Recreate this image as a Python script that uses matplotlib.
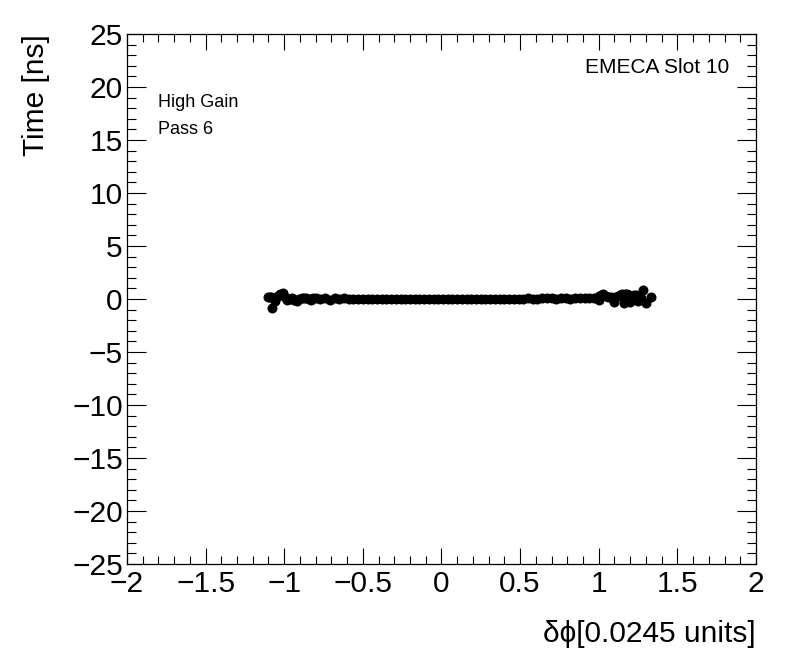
import matplotlib
matplotlib.use("Agg")
import matplotlib.pyplot as plt
from matplotlib.ticker import MultipleLocator

plt.rcParams['font.family'] = ['Liberation Sans', 'DejaVu Sans']

# delta phi of each channel and fitted time offset
dphi = [-1.10, -1.085, -1.07, -1.055, -1.04, -1.025, -1.01, -0.995, -0.98, -0.965,
        -0.95, -0.935, -0.92, -0.905, -0.89, -0.875, -0.86, -0.845, -0.83, -0.815,
        -0.80, -0.77, -0.74, -0.71, -0.68, -0.65, -0.62, -0.59, -0.56, -0.53,
        -0.50, -0.47, -0.44, -0.41, -0.38, -0.35, -0.32, -0.29, -0.26, -0.23,
        -0.20, -0.17, -0.14, -0.11, -0.08, -0.05, -0.02, 0.01, 0.04, 0.07,
        0.10, 0.13, 0.16, 0.19, 0.22, 0.25, 0.28, 0.31, 0.34, 0.37,
        0.40, 0.43, 0.46, 0.49, 0.52, 0.55, 0.58, 0.61, 0.64, 0.67,
        0.70, 0.73, 0.76, 0.79, 0.82, 0.85, 0.88, 0.91, 0.94, 0.97,
        1.00, 1.015, 1.03, 1.045, 1.06, 1.075, 1.09, 1.105, 1.12, 1.135,
        1.15, 1.165, 1.18, 1.195, 1.21, 1.225, 1.24, 1.255, 1.27,
        -1.075, -1.09, -1.06, 1.28, 1.33, 1.30, 1.22, 1.00,
        1.10, 1.16, 1.20, 1.25]
time = [0.15, 0.20, 0.10, 0.15, 0.30, 0.45, 0.55, 0.20, -0.10, 0.00,
        0.10, -0.05, -0.15, 0.00, 0.05, 0.10, 0.10, 0.00, -0.05, 0.05,
        0.10, 0.00, 0.05, -0.05, 0.05, 0.00, 0.05, 0.00, 0.00, 0.00,
        0.00, 0.00, 0.00, 0.00, 0.00, 0.00, 0.00, 0.00, 0.00, 0.00,
        0.00, 0.00, 0.00, 0.00, 0.00, 0.00, 0.00, 0.00, 0.00, 0.00,
        0.00, 0.00, 0.00, 0.00, 0.00, 0.00, 0.00, 0.00, 0.00, 0.00,
        0.02, 0.00, 0.00, 0.03, 0.00, 0.05, 0.03, 0.00, 0.05, 0.08,
        0.05, 0.00, 0.08, 0.05, 0.00, 0.05, 0.08, 0.05, 0.10, 0.05,
        0.30, 0.40, 0.45, 0.30, 0.20, 0.15, 0.10, 0.20, 0.30, 0.40,
        0.45, 0.50, 0.50, 0.40, 0.30, 0.35, 0.40, 0.25, 0.10,
        -0.85, 0.20, -0.15, 0.85, 0.20, -0.40, 0.05, -0.10,
        -0.30, -0.35, -0.30, -0.20]

fig = plt.figure(figsize=(7.96, 6.72), dpi=100)
ax = fig.add_axes([0.1595, 0.1607, 0.7902, 0.7887])

ax.plot(dphi, time, 'o', color='black', markersize=7.2, markeredgewidth=0)

ax.set_xlim(-2, 2)
ax.set_ylim(-25, 25)
ax.xaxis.set_minor_locator(MultipleLocator(0.1))
ax.yaxis.set_minor_locator(MultipleLocator(1))
ax.set_xticks([-2, -1.5, -1, -0.5, 0, 0.5, 1, 1.5, 2])
ax.set_xticklabels(['\u22122', '\u22121.5', '\u22121', '\u22120.5', '0', '0.5', '1', '1.5', '2'])
ax.set_yticks(list(range(-25, 30, 5)))
ax.set_yticklabels([str(v).replace('-', '\u2212') for v in range(-25, 30, 5)])

ax.tick_params(axis='both', which='both', direction='in', top=True, right=True,
               width=0.8, labelsize=21.5)
ax.tick_params(axis='x', which='major', length=11.5, pad=4)
ax.tick_params(axis='x', which='minor', length=5.5)
ax.tick_params(axis='y', which='major', length=13.5, pad=3)
ax.tick_params(axis='y', which='minor', length=6.5)
for s in ax.spines.values():
    s.set_linewidth(0.9)

ax.set_xlabel('\u03b4\u03d5[0.0245 units]', fontsize=21.5, loc='right', labelpad=16)
ax.set_ylabel('Time [ns]', fontsize=21.5, loc='top', labelpad=16)

ax.text(0.957, 0.936, 'EMECA Slot 10', transform=ax.transAxes, fontsize=15,
        ha='right', va='center')
ax.text(0.05, 0.87, 'High Gain', transform=ax.transAxes, fontsize=13,
        ha='left', va='center')
ax.text(0.05, 0.82, 'Pass 6', transform=ax.transAxes, fontsize=13,
        ha='left', va='center')

fig.savefig('out.png', dpi=100)
